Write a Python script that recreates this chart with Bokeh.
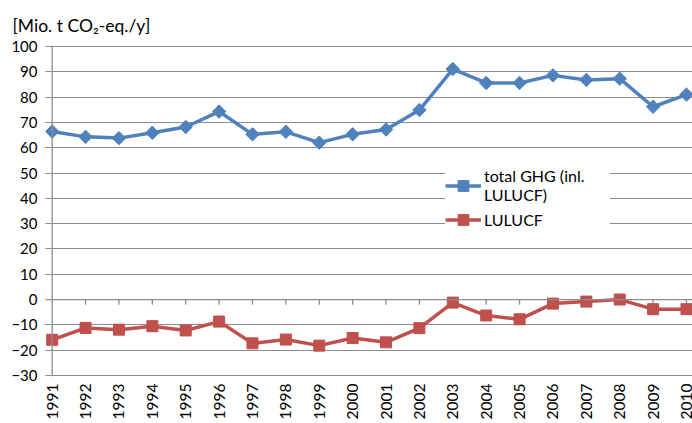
import numpy as np
from bokeh.plotting import figure
from bokeh.models import Range1d, FixedTicker, Span, Legend, LegendItem, ColumnDataSource, Title
from bokeh.embed import file_html
from bokeh.resources import INLINE

years = list(range(1991, 2011))
ghg = [66.4, 64.3, 63.8, 65.9, 68.2, 74.3, 65.3, 66.3, 62.0, 65.3,
       67.2, 74.9, 91.1, 85.6, 85.6, 88.6, 86.8, 87.3, 76.2, 81.0]
lulucf = [-15.9, -11.2, -11.9, -10.5, -12.2, -8.7, -17.3, -15.8, -18.2, -15.2,
          -16.9, -11.3, -1.2, -6.3, -7.8, -1.6, -0.8, 0.0, -3.8, -3.8]
y_ticks = list(range(-30, 101, 10))
y_label = "[Mio. t CO₂-eq./y]"
ghg_name = "total GHG (inl.\nLULUCF)"
lulucf_name = "LULUCF"

FONT = "Lato"
BLUE = "#4F81BD"
RED = "#C0504D"
GRID = "#8C8C8C"

p = figure(frame_width=647, frame_height=331, output_backend="svg", toolbar_location=None,
           x_range=Range1d(1990.8, 2010.18), y_range=Range1d(-30.4, 100.4),
           min_border_left=45, min_border_right=0, min_border_top=45, min_border_bottom=10)
p.outline_line_color = None
p.background_fill_color = "white"

# y axis
p.yaxis.ticker = FixedTicker(ticks=y_ticks)
p.yaxis.axis_line_color = None
p.yaxis.major_tick_in = 7
p.yaxis.major_tick_out = 0
p.yaxis.major_tick_line_color = GRID
p.yaxis.minor_tick_line_color = None
p.yaxis.major_label_text_font = FONT
p.yaxis.major_label_text_font_size = "15px"
p.yaxis.major_label_text_color = "#000000"
p.yaxis.major_label_standoff = 8
p.yaxis.axis_label_standoff = 0

# x axis (labels only, at bottom)
p.xaxis.ticker = FixedTicker(ticks=years)
p.xaxis.axis_line_color = None
p.xaxis.major_tick_line_color = None
p.xaxis.major_tick_out = 0
p.xaxis.major_tick_in = 0
p.xaxis.minor_tick_line_color = None
p.xaxis.major_label_orientation = np.pi / 2
p.xaxis.major_label_text_font = FONT
p.xaxis.major_label_text_font_size = "15.5px"
p.xaxis.major_label_text_color = "#000000"
p.xaxis.major_label_standoff = 7
p.xaxis.axis_label_standoff = 0

p.xgrid.grid_line_color = None
p.ygrid.ticker = FixedTicker(ticks=y_ticks)
p.ygrid.grid_line_color = GRID
p.ygrid.grid_line_width = 1

# axis lines: vertical at first year, horizontal at 0
p.add_layout(Span(location=years[0], dimension="height", line_color=GRID, line_width=1.3))
p.add_layout(Span(location=0, dimension="width", line_color=GRID, line_width=1.3))
# x tick marks at the zero line
p.segment(x0=years[1:], y0=[0] * (len(years) - 1), x1=years[1:], y1=[-2] * (len(years) - 1),
          line_color=GRID, line_width=1.3)

src = ColumnDataSource(dict(x=years, ghg=ghg, lulucf=lulucf))
l1 = p.line("x", "ghg", source=src, line_color=BLUE, line_width=3.5)
m1 = p.scatter("x", "ghg", source=src, marker="square", angle=np.pi / 4, size=9.5,
               fill_color=BLUE, line_color=BLUE)
l2 = p.line("x", "lulucf", source=src, line_color=RED, line_width=3.5)
m2 = p.scatter("x", "lulucf", source=src, marker="square", size=11,
               fill_color=RED, line_color=RED)

legend = Legend(items=[LegendItem(label=ghg_name, renderers=[l1, m1]),
                       LegendItem(label=lulucf_name, renderers=[l2, m2])],
                location=(400, 143), background_fill_color="white", background_fill_alpha=1.0,
                border_line_color=None, glyph_width=36, glyph_height=27, label_standoff=3,
                padding=14, spacing=2, label_text_font=FONT, label_text_font_size="16px",
                label_text_color="#000000", margin=0, label_text_line_height=1.3,
                label_width=126)
p.add_layout(legend)

p.add_layout(Title(text=y_label, align="left", offset=-33, standoff=20,
                   text_font=FONT, text_font_size="17.5px", text_color="#000000",
                   text_font_style="normal"), "above")

open("out.html", "w").write(file_html(p, INLINE))
